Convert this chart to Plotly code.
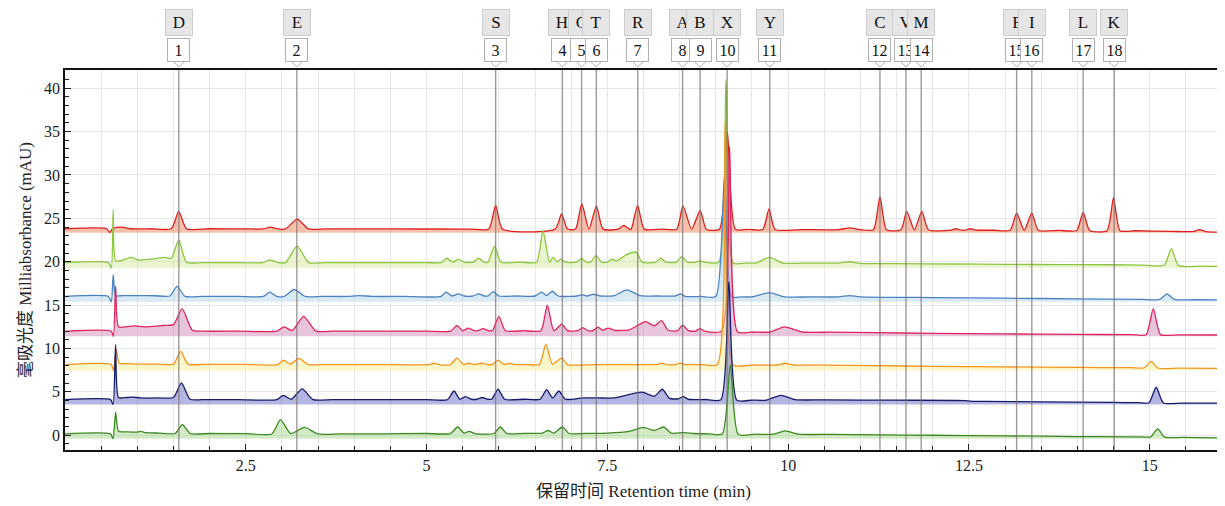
import plotly.graph_objects as go

# ---------------- data ----------------
peak_times = [1.574, 3.206, 5.955, 6.878, 7.144, 7.347, 7.920, 8.541, 8.783,
              9.157, 9.746, 11.27, 11.63, 11.84, 13.16, 13.37, 14.08, 14.51]
peak_letters = ["D", "E", "S", "H", "G", "T", "R", "A", "B",
                "X", "Y", "C", "V", "M", "F", "I", "L", "K"]
peak_numbers = [str(i) for i in range(1, 19)]

series_names = ["red", "lightgreen", "blue", "pink", "orange", "navy", "green"]

red_pts = [(0.0, 23.80), (0.58, 23.80), (0.62, 23.35), (0.66, 23.85), (0.78, 24.0), (0.9, 23.8),
           (1.2, 23.8), (1.47, 23.8), (1.573, 25.8), (1.68, 23.8), (2.0, 23.8), (2.5, 23.79),
           (2.74, 23.78), (2.84, 24.0), (2.94, 23.78),
           (3.05, 23.78), (3.21, 24.9), (3.37, 23.78), (3.6, 23.78), (4.5, 23.78), (5.6, 23.77),
           (5.86, 23.77), (5.956, 26.5), (6.05, 23.77),
           (6.78, 23.77), (6.866, 25.5), (6.95, 23.77),
           (7.06, 23.76), (7.147, 26.7), (7.245, 23.76),
           (7.349, 26.4), (7.44, 23.76),
           (7.65, 23.76), (7.726, 24.2), (7.80, 23.76),
           (7.83, 23.76), (7.919, 26.5), (8.01, 23.76), (8.25, 23.76),
           (8.46, 23.75), (8.545, 26.45), (8.665, 23.75),
           (8.784, 25.9), (8.87, 23.75),
           (9.05, 23.75), (9.16, 35.0), (9.27, 23.75), (9.45, 23.73),
           (9.65, 23.72), (9.736, 26.1), (9.82, 23.72), (10.2, 23.71),
           (10.7, 23.7), (10.85, 23.9), (11.0, 23.7),
           (11.18, 23.7), (11.27, 27.5), (11.36, 23.7),
           (11.56, 23.68), (11.64, 25.8), (11.745, 23.68),
           (11.85, 25.8), (11.94, 23.68),
           (12.25, 23.65), (12.32, 23.8), (12.39, 23.65), (12.45, 23.65), (12.52, 23.8), (12.59, 23.65),
           (12.85, 23.63), (13.07, 23.62), (13.16, 25.6), (13.265, 23.62),
           (13.37, 25.6), (13.46, 23.62), (13.75, 23.61),
           (13.99, 23.6), (14.08, 25.7), (14.17, 23.6),
           (14.41, 23.58), (14.50, 27.4), (14.59, 23.58), (14.8, 23.57), (15.3, 23.5),
           (15.6, 23.48), (15.69, 23.7), (15.78, 23.46),
           (16.0, 23.4)]

lightgreen_pts = [(0.0, 19.9), (0.6, 19.9), (0.64, 19.3), (0.667, 26.0), (0.70, 20.1), (0.8, 20.2),
                  (0.91, 20.5), (1.02, 20.2), (1.2, 20.3), (1.38, 20.5), (1.47, 20.4), (1.573, 22.5),
                  (1.68, 19.95), (1.9, 19.9), (2.3, 19.9),
                  (2.73, 19.9), (2.83, 20.2), (2.95, 19.9), (3.05, 19.9), (3.21, 21.8), (3.37, 19.9),
                  (3.6, 19.9), (4.4, 19.9), (5.0, 19.9),
                  (5.2, 19.9), (5.28, 20.4), (5.36, 19.95), (5.44, 20.3), (5.52, 19.95), (5.64, 19.95),
                  (5.72, 20.4), (5.80, 19.95), (5.85, 19.95), (5.94, 21.8), (6.03, 19.95), (6.3, 19.95),
                  (6.52, 19.95), (6.61, 23.6), (6.70, 19.95), (6.75, 20.5), (6.81, 20.0), (6.86, 20.3),
                  (6.92, 19.95),
                  (7.07, 19.95), (7.14, 20.35), (7.21, 19.95), (7.27, 19.95), (7.34, 20.7), (7.42, 19.95),
                  (7.5, 19.95), (7.56, 20.3), (7.63, 20.1), (7.76, 20.8), (7.90, 21.1), (7.98, 19.95),
                  (8.17, 19.95), (8.24, 20.4), (8.31, 19.95), (8.45, 19.95), (8.53, 20.6), (8.61, 19.95),
                  (8.72, 19.95), (8.78, 20.1), (8.85, 19.95),
                  (9.04, 19.95), (9.14, 41.0), (9.24, 19.85), (9.4, 19.85),
                  (9.55, 19.85), (9.74, 20.5), (9.93, 19.85), (10.3, 19.85),
                  (10.7, 19.85), (10.85, 20.0), (11.0, 19.8), (11.5, 19.78), (12.3, 19.74),
                  (13.0, 19.7), (13.8, 19.67), (14.5, 19.65), (14.9, 19.62),
                  (15.20, 19.6), (15.30, 21.5), (15.40, 19.55), (15.7, 19.5), (16.0, 19.45)]

blue_pts = [(0.0, 16.0), (0.6, 16.0), (0.64, 15.4), (0.667, 18.5), (0.70, 16.1), (0.8, 16.1), (1.0, 16.1),
            (1.25, 16.08), (1.45, 16.05), (1.55, 17.16), (1.66, 16.0), (1.9, 16.0), (2.4, 16.0),
            (2.74, 16.0), (2.83, 16.5), (2.93, 16.0), (3.03, 16.0), (3.17, 16.8), (3.32, 16.0),
            (3.55, 16.0), (3.9, 16.0), (4.07, 16.1), (4.25, 16.0), (4.7, 16.0),
            (5.2, 16.0), (5.27, 16.5), (5.35, 16.05), (5.44, 16.3), (5.52, 16.05), (5.64, 16.05),
            (5.72, 16.3), (5.80, 16.05), (5.85, 16.05), (5.92, 16.55), (6.0, 16.05), (6.25, 16.05),
            (6.5, 16.05), (6.59, 16.5), (6.66, 16.1), (6.74, 16.6), (6.82, 16.05),
            (7.08, 16.05), (7.15, 16.2), (7.22, 16.05), (7.31, 16.25), (7.4, 16.05),
            (7.6, 16.1), (7.77, 16.75), (7.95, 16.1), (8.2, 16.05),
            (8.44, 16.05), (8.51, 16.3), (8.58, 16.0), (8.8, 16.0),
            (9.0, 16.0), (9.12, 30.0), (9.22, 15.95), (9.35, 15.95),
            (9.5, 15.95), (9.74, 16.45), (9.95, 15.95), (10.3, 15.95),
            (10.7, 15.95), (10.85, 16.1), (11.0, 15.95), (12.0, 15.87), (13.0, 15.8), (14.0, 15.72),
            (14.9, 15.67), (15.14, 15.65), (15.24, 16.3), (15.34, 15.65), (15.6, 15.62), (16.0, 15.6)]

pink_pts = [(0.0, 11.98), (0.64, 11.98), (0.67, 11.4), (0.70, 17.2), (0.74, 12.5), (0.85, 12.5),
            (0.95, 12.6), (1.1, 12.5), (1.35, 12.65), (1.5, 12.75), (1.62, 14.6), (1.76, 12.1), (1.9, 12.0),
            (2.4, 12.0), (2.93, 12.0), (3.03, 12.5), (3.14, 12.05), (3.30, 13.7), (3.47, 12.0),
            (3.7, 12.0), (4.4, 12.0), (5.0, 12.0),
            (5.33, 12.0), (5.42, 12.65), (5.50, 12.05), (5.58, 12.35), (5.66, 12.05), (5.71, 12.05),
            (5.78, 12.3), (5.86, 12.05), (5.91, 12.05), (6.0, 13.7), (6.09, 12.05), (6.35, 12.05),
            (6.58, 12.05), (6.67, 15.0), (6.76, 12.05), (6.87, 12.8), (6.95, 12.05),
            (7.09, 12.05), (7.16, 12.4), (7.23, 12.05), (7.3, 12.05), (7.37, 12.45), (7.44, 12.1),
            (7.51, 12.35), (7.6, 12.1),
            (7.8, 12.15), (8.03, 13.1), (8.15, 12.6), (8.25, 13.2), (8.34, 12.1), (8.47, 12.05),
            (8.54, 12.7), (8.62, 12.05), (8.72, 12.0), (8.78, 12.3), (8.85, 12.0),
            (9.08, 12.0), (9.19, 33.3), (9.30, 11.9), (9.5, 11.9),
            (9.75, 11.9), (9.95, 12.5), (10.2, 11.9), (10.6, 11.88), (11.2, 11.82),
            (12.0, 11.75), (13.0, 11.68), (14.0, 11.63), (14.75, 11.6),
            (14.95, 11.6), (15.05, 14.6), (15.15, 11.6), (15.4, 11.58), (16.0, 11.55)]

orange_pts = [(0.0, 8.14), (0.64, 8.14), (0.67, 7.45), (0.71, 9.87), (0.75, 8.3), (0.85, 8.25), (1.0, 8.2),
              (1.25, 8.2), (1.5, 8.2), (1.60, 9.67), (1.70, 8.2), (1.95, 8.18), (2.5, 8.16),
              (2.94, 8.15), (3.02, 8.65), (3.11, 8.2), (3.24, 8.85), (3.36, 8.15),
              (3.6, 8.15), (4.3, 8.15),
              (5.03, 8.15), (5.10, 8.3), (5.17, 8.15), (5.33, 8.15), (5.42, 8.9), (5.51, 8.15),
              (5.58, 8.3), (5.66, 8.15), (5.76, 8.3), (5.84, 8.15), (5.91, 8.15), (5.99, 8.65),
              (6.07, 8.15), (6.14, 8.3), (6.22, 8.15), (6.4, 8.15),
              (6.56, 8.15), (6.65, 10.5), (6.74, 8.2), (6.87, 8.9), (6.95, 8.15),
              (7.3, 8.15), (7.8, 8.15),
              (8.18, 8.15), (8.25, 8.3), (8.32, 8.15), (8.44, 8.15), (8.51, 8.3), (8.58, 8.15),
              (8.8, 8.15), (9.02, 8.15), (9.13, 36.2), (9.24, 8.1), (9.5, 8.1),
              (9.85, 8.1), (9.96, 8.3), (10.07, 8.1), (10.5, 8.08), (11.2, 8.02),
              (12.0, 7.95), (13.0, 7.88), (14.0, 7.82), (14.75, 7.79),
              (14.93, 7.78), (15.02, 8.52), (15.11, 7.75), (15.4, 7.73), (16.0, 7.7)]

navy_pts = [(0.0, 4.1), (0.63, 4.1), (0.665, 3.55), (0.70, 10.44), (0.74, 4.35), (0.85, 4.35),
            (0.94, 4.4), (1.05, 4.3), (1.3, 4.3), (1.5, 4.35), (1.61, 6.03), (1.73, 4.15), (1.9, 4.1),
            (2.4, 4.1), (2.93, 4.1), (3.02, 4.6), (3.13, 4.15), (3.28, 5.34), (3.43, 4.1),
            (3.7, 4.1), (4.4, 4.1), (5.0, 4.1),
            (5.29, 4.1), (5.38, 5.1), (5.46, 4.15), (5.54, 4.45), (5.62, 4.15), (5.7, 4.15),
            (5.77, 4.35), (5.85, 4.15), (5.9, 4.15), (5.99, 5.3), (6.08, 4.15), (6.35, 4.15),
            (6.57, 4.15), (6.66, 5.25), (6.745, 4.3), (6.83, 5.1), (6.92, 4.15),
            (7.16, 4.3), (7.37, 4.3), (7.6, 4.3), (7.98, 4.96), (8.15, 4.5), (8.26, 5.3), (8.36, 4.25),
            (8.48, 4.2), (8.55, 4.45), (8.62, 4.15), (8.85, 4.12),
            (9.07, 4.1), (9.18, 17.7), (9.29, 4.05), (9.5, 4.05),
            (9.7, 4.05), (9.90, 4.6), (10.1, 4.1), (10.5, 4.08), (11.5, 4.04),
            (12.45, 4.0), (12.57, 3.9), (12.7, 3.9), (13.5, 3.85), (14.5, 3.78), (14.85, 3.76),
            (14.99, 3.75), (15.09, 5.53), (15.19, 3.72), (15.45, 3.71), (16.0, 3.7)]

green_pts = [(0.0, 0.16), (0.63, 0.16), (0.665, -0.4), (0.70, 2.65), (0.74, 0.45), (0.85, 0.4),
             (0.98, 0.35), (1.05, 0.45), (1.12, 0.3), (1.3, 0.25),
             (1.52, 0.2), (1.624, 1.23), (1.73, 0.2), (2.0, 0.2), (2.5, 0.18),
             (2.86, 0.15), (2.98, 1.8), (3.12, 0.2), (3.31, 0.9), (3.5, 0.15),
             (3.8, 0.15), (4.4, 0.17),
             (5.0, 0.2), (5.33, 0.2), (5.43, 0.95), (5.52, 0.25), (5.59, 0.45), (5.67, 0.2),
             (5.93, 0.2), (6.02, 0.95), (6.11, 0.2), (6.35, 0.22),
             (6.6, 0.25), (6.68, 0.55), (6.76, 0.25), (6.88, 0.95), (6.97, 0.2), (7.2, 0.22),
             (7.5, 0.25), (7.8, 0.45), (8.0, 0.9), (8.15, 0.55), (8.28, 0.95), (8.38, 0.25),
             (8.56, 0.3), (8.7, 0.2), (8.9, 0.17),
             (9.09, 0.15), (9.20, 8.1), (9.31, 0.1), (9.55, 0.12),
             (9.8, 0.12), (9.96, 0.5), (10.15, 0.12), (10.6, 0.1), (11.3, 0.05),
             (12.0, 0.0), (13.0, -0.07), (14.0, -0.15), (14.7, -0.18), (14.9, -0.19),
             (15.01, -0.2), (15.11, 0.73), (15.21, -0.22), (15.45, -0.25), (16.0, -0.3)]

series_points = [red_pts, lightgreen_pts, blue_pts, pink_pts, orange_pts, navy_pts, green_pts]

line_colors = ["#dc1f1d", "#8cc63f", "#4a82c3", "#e0245e", "#f7941d", "#151a6a", "#3b8a1f"]
fill_colors = ["rgba(240,140,105,0.55)", "rgba(214,234,160,0.5)", "rgba(180,214,234,0.5)",
               "rgba(210,140,185,0.5)", "rgba(248,240,160,0.55)", "rgba(120,120,200,0.55)",
               "rgba(170,215,145,0.5)"]

x_tickvals = [2.5, 5, 7.5, 10, 12.5, 15]
x_ticktext = ["2.5", "5", "7.5", "10", "12.5", "15"]

FONT = "Liberation Serif, Times New Roman, Noto Sans CJK SC, serif"

# the page body adds an 8px offset; plot area targets (in window px): left 65, right 1222, top 70, bottom 450
OFF = 8
PLOT_TOP, PLOT_BOTTOM = 70, 450
PLOT_H = PLOT_BOTTOM - PLOT_TOP


def paper_y(py):
    return (PLOT_BOTTOM - py) / PLOT_H


fig = go.Figure()

for name, pts, lc, fc in zip(series_names, series_points, line_colors, fill_colors):
    xs = [p[0] for p in pts]
    ys = [p[1] for p in pts]
    floor = min(ys)
    fig.add_trace(go.Scatter(x=[xs[0], xs[-1]], y=[floor, floor], mode="lines",
                             line=dict(width=0, color=fc), hoverinfo="skip", showlegend=False))
    fig.add_trace(go.Scatter(x=xs, y=ys, mode="lines", name=name, fill="tonexty", fillcolor=fc,
                             line=dict(color=lc, width=1.3, shape="spline", smoothing=0.6),
                             showlegend=False))

shapes = []
annotations = []
for t in peak_times:
    shapes.append(dict(type="line", xref="x", yref="paper", x0=t, x1=t, y0=0, y1=1,
                       line=dict(color="rgba(120,110,110,0.7)", width=1.4), layer="above"))
    shapes.append(dict(type="path", xref="x", yref="paper", xsizemode="pixel", ysizemode="pixel",
                       xanchor=t, yanchor=paper_y(62), path="M-5,0 L0,-5 L5,0",
                       line=dict(color="#b0b0b0", width=1), fillcolor="white", layer="above"))
for t, letter in zip(peak_times, peak_letters):
    annotations.append(dict(x=t, xref="x", y=paper_y(23), yref="paper", text=letter,
                            showarrow=False, font=dict(family=FONT, size=17, color="#111"),
                            bgcolor="#e6e6e6", bordercolor="#cccccc", borderwidth=1, borderpad=2,
                            width=22, height=21, xanchor="center", yanchor="middle"))
for t, num in zip(peak_times, peak_numbers):
    annotations.append(dict(x=t, xref="x", y=paper_y(50), yref="paper", text=num,
                            showarrow=False, font=dict(family=FONT, size=16, color="#111"),
                            bgcolor="white", bordercolor="#b0b0b0", borderwidth=1, borderpad=2,
                            width=17, height=18, xanchor="center", yanchor="middle"))

fig.update_layout(
    width=1225, height=506,
    margin=dict(l=65 - OFF, r=1225 - (1222 - OFF), t=PLOT_TOP - OFF, b=506 - (PLOT_BOTTOM - OFF)),
    paper_bgcolor="white", plot_bgcolor="white",
    font=dict(family=FONT, size=16, color="#222"),
    shapes=shapes, annotations=annotations,
    showlegend=False,
)
fig.update_xaxes(range=[0, 16], tickvals=x_tickvals, ticktext=x_ticktext,
                 ticks="inside", ticklen=6, tickcolor="#222",
                 showline=True, linecolor="#111", linewidth=1.5, mirror=True,
                 showgrid=True, gridcolor="#e6e6e6", gridwidth=1,
                 minor=dict(dtick=0.5, tick0=0, ticks="inside", ticklen=4, tickcolor="#222",
                            showgrid=True, gridcolor="#e6e6e6"),
                 zeroline=False, automargin=False,
                 title=dict(text="保留时间 Retention time (min)", font=dict(family=FONT, size=17),
                            standoff=12),
                 tickfont=dict(family=FONT, size=16))
fig.update_yaxes(range=[-1.7, 42.1], dtick=5, tick0=0,
                 ticks="inside", ticklen=6, tickcolor="#222",
                 showline=True, linecolor="#111", linewidth=1.5, mirror=True,
                 showgrid=True, gridcolor="#e6e6e6", gridwidth=1,
                 minor=dict(dtick=1, ticks="inside", ticklen=4, tickcolor="#222", showgrid=False),
                 zeroline=False, automargin=False,
                 title=dict(text="毫吸光度 Milliabsorbance (mAU)", font=dict(family=FONT, size=17),
                            standoff=8),
                 tickfont=dict(family=FONT, size=16))

fig.write_html("out.html")
